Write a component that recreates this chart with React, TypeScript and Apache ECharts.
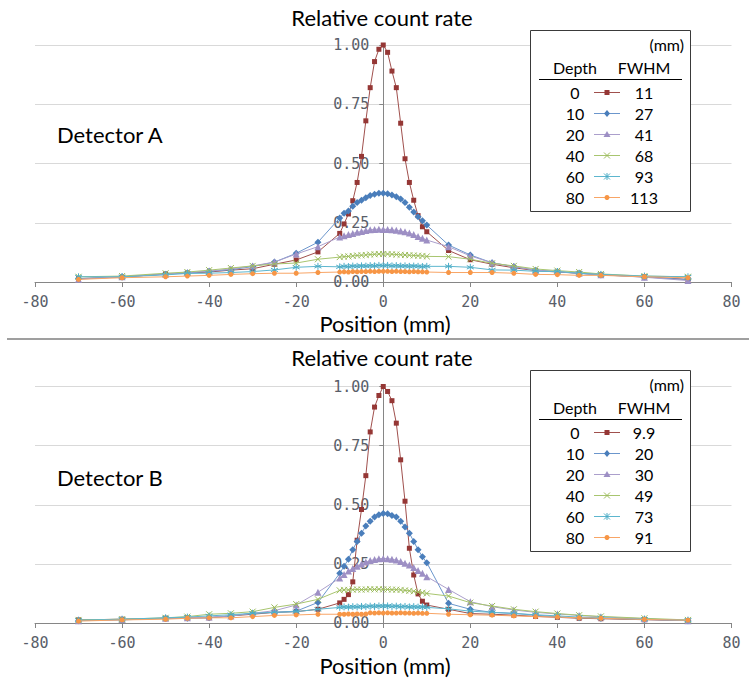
import React, { useEffect, useRef } from "react";
import * as echarts from "echarts";

// Positions (mm) at which the count rate was measured
const positions = [
  -70, -60, -50, -45, -40, -35, -30, -25, -20, -15,
  -10, -9, -8, -7, -6, -5, -4, -3, -2, -1, 0, 1, 2, 3, 4, 5, 6, 7, 8, 9, 10,
  15, 20, 25, 30, 35, 40, 45, 50, 60, 70,
];

const depths = ["0", "10", "20", "40", "60", "80"];
const fwhmA = ["11", "27", "41", "68", "93", "113"];
const fwhmB = ["9.9", "20", "30", "49", "73", "91"];

const xTicks = [-80, -60, -40, -20, 0, 20, 40, 60, 80];
const yTicks = [0, 0.25, 0.5, 0.75, 1.0];

// Detector A
const aDepth0 = [
  0.014, 0.021, 0.034, 0.038, 0.042, 0.05, 0.056, 0.075, 0.093, 0.127,
  0.205, 0.245, 0.287, 0.343, 0.42, 0.53, 0.68, 0.82, 0.93, 0.982, 1.0, 0.969, 0.89, 0.82, 0.67, 0.52, 0.42, 0.345, 0.28, 0.233, 0.212,
  0.133, 0.094, 0.075, 0.06, 0.048, 0.042, 0.037, 0.031, 0.022, 0.011,
];
const aDepth10 = [
  0.014, 0.022, 0.033, 0.038, 0.045, 0.052, 0.065, 0.084, 0.121, 0.168,
  0.27, 0.29, 0.3, 0.32, 0.335, 0.345, 0.355, 0.365, 0.37, 0.375, 0.375, 0.372, 0.367, 0.36, 0.35, 0.335, 0.315, 0.295, 0.275, 0.258, 0.24,
  0.156, 0.114, 0.081, 0.065, 0.05, 0.044, 0.036, 0.03, 0.021, 0.01,
];
const aDepth20 = [
  0.012, 0.022, 0.033, 0.04, 0.046, 0.055, 0.068, 0.084, 0.118, 0.149,
  0.19, 0.195, 0.2, 0.205, 0.21, 0.213, 0.217, 0.22, 0.222, 0.223, 0.222, 0.222, 0.22, 0.218, 0.215, 0.212, 0.207, 0.2, 0.192, 0.185, 0.177,
  0.149, 0.11, 0.081, 0.065, 0.05, 0.044, 0.037, 0.031, 0.02, 0.006,
];
const aDepth40 = [
  0.022, 0.025, 0.037, 0.042, 0.05, 0.059, 0.068, 0.076, 0.08, 0.096,
  0.105, 0.107, 0.108, 0.11, 0.112, 0.113, 0.114, 0.116, 0.117, 0.118, 0.118, 0.118, 0.117, 0.116, 0.115, 0.114, 0.113, 0.112, 0.111, 0.11, 0.108,
  0.107, 0.096, 0.079, 0.068, 0.055, 0.048, 0.042, 0.034, 0.025, 0.022,
];
const aDepth60 = [
  0.022, 0.022, 0.03, 0.036, 0.037, 0.04, 0.044, 0.051, 0.062, 0.066,
  0.064, 0.066, 0.065, 0.067, 0.066, 0.068, 0.067, 0.069, 0.068, 0.07, 0.069, 0.07, 0.068, 0.069, 0.067, 0.068, 0.066, 0.067, 0.066, 0.065, 0.066,
  0.066, 0.062, 0.051, 0.05, 0.045, 0.044, 0.037, 0.032, 0.025, 0.022,
];
const aDepth80 = [
  0.011, 0.018, 0.022, 0.025, 0.028, 0.032, 0.035, 0.037, 0.037, 0.04,
  0.042, 0.043, 0.042, 0.044, 0.043, 0.044, 0.044, 0.045, 0.044, 0.045, 0.045, 0.045, 0.044, 0.045, 0.044, 0.044, 0.043, 0.044, 0.043, 0.043, 0.042,
  0.04, 0.04, 0.04, 0.037, 0.032, 0.031, 0.028, 0.028, 0.022, 0.018,
];

// Detector B
const bDepth0 = [
  0.013, 0.016, 0.02, 0.022, 0.022, 0.03, 0.037, 0.045, 0.048, 0.058,
  0.085, 0.1, 0.12, 0.174, 0.35, 0.48, 0.623, 0.808, 0.913, 0.962, 1.0, 0.979, 0.94, 0.845, 0.69, 0.515, 0.316, 0.203, 0.123, 0.092, 0.076,
  0.058, 0.04, 0.037, 0.033, 0.028, 0.024, 0.02, 0.018, 0.014, 0.01,
];
const bDepth10 = [
  0.01, 0.013, 0.02, 0.02, 0.022, 0.03, 0.041, 0.045, 0.05, 0.087,
  0.21, 0.24, 0.27, 0.31, 0.345, 0.38, 0.41, 0.43, 0.448, 0.458, 0.463, 0.462, 0.455, 0.448, 0.43, 0.406, 0.38, 0.345, 0.31, 0.28, 0.255,
  0.083, 0.058, 0.045, 0.041, 0.033, 0.026, 0.022, 0.02, 0.015, 0.01,
];
const bDepth20 = [
  0.01, 0.015, 0.02, 0.022, 0.025, 0.03, 0.041, 0.052, 0.076, 0.13,
  0.19, 0.205, 0.22, 0.23, 0.24, 0.25, 0.258, 0.264, 0.268, 0.272, 0.273, 0.272, 0.27, 0.266, 0.26, 0.253, 0.245, 0.235, 0.222, 0.21, 0.196,
  0.142, 0.09, 0.069, 0.055, 0.045, 0.038, 0.032, 0.026, 0.018, 0.01,
];
const bDepth40 = [
  0.013, 0.016, 0.022, 0.027, 0.037, 0.041, 0.048, 0.066, 0.08, 0.1,
  0.138, 0.14, 0.14, 0.141, 0.142, 0.141, 0.142, 0.143, 0.142, 0.143, 0.142, 0.142, 0.141, 0.141, 0.14, 0.138, 0.136, 0.134, 0.131, 0.128, 0.125,
  0.114, 0.086, 0.072, 0.058, 0.048, 0.04, 0.033, 0.028, 0.02, 0.013,
];
const bDepth60 = [
  0.012, 0.016, 0.022, 0.025, 0.03, 0.035, 0.041, 0.045, 0.048, 0.058,
  0.066, 0.068, 0.067, 0.069, 0.068, 0.07, 0.069, 0.071, 0.07, 0.072, 0.071, 0.072, 0.07, 0.071, 0.069, 0.07, 0.068, 0.069, 0.067, 0.068, 0.066,
  0.06, 0.05, 0.045, 0.04, 0.035, 0.03, 0.025, 0.022, 0.016, 0.012,
];
const bDepth80 = [
  0.008, 0.013, 0.016, 0.02, 0.022, 0.022, 0.027, 0.032, 0.034, 0.037,
  0.037, 0.037, 0.038, 0.037, 0.038, 0.037, 0.038, 0.043, 0.042, 0.043, 0.042, 0.043, 0.042, 0.042, 0.043, 0.042, 0.042, 0.041, 0.042, 0.041, 0.041,
  0.037, 0.035, 0.033, 0.03, 0.027, 0.025, 0.022, 0.02, 0.015, 0.012,
];

const detectorA = [aDepth0, aDepth10, aDepth20, aDepth40, aDepth60, aDepth80];
const detectorB = [bDepth0, bDepth10, bDepth20, bDepth40, bDepth60, bDepth80];

const STYLES = [
  { color: "#953735", line: "#a0504d", symbol: "rect", size: 5, stroke: false },
  { color: "#4a7ebb", line: "#6b96cc", symbol: "diamond", size: 7, stroke: false },
  { color: "#9d8fc4", line: "#ab9fcc", symbol: "triangle", size: 7, stroke: false },
  { color: "#9bbb59", line: "#a8c56f", symbol: "path://M0,0L10,10M10,0L0,10", size: 6, stroke: true },
  { color: "#4bacc6", line: "#5db6ce", symbol: "path://M5,0L5,10M0.7,2.5L9.3,7.5M0.7,7.5L9.3,2.5", size: 7, stroke: true },
  { color: "#f79646", line: "#f8a566", symbol: "circle", size: 5, stroke: false },
];

const TEXT_FONT = "Lato";
const AXIS_FONT = "DejaVu Sans Mono";
const GRID_LEFT = 35;
const GRID_WIDTH = 696.5;

function legendBox(top: number, fwhm: string[]) {
  const els: any[] = [];
  const z = 100;
  els.push({
    type: "rect",
    shape: { x: 530.5, y: top + 0.5, width: 160, height: 181 },
    style: { fill: "#ffffff", stroke: "#3a3a3a", lineWidth: 1 },
    z,
  });
  const txt = (text: string, x: number, y: number, align: string) => ({
    type: "text",
    x,
    y,
    style: {
      text,
      fontFamily: TEXT_FONT,
      fontSize: 16,
      fill: "#000000",
      textAlign: align,
      textVerticalAlign: "middle",
    },
    z: z + 1,
  });
  els.push(txt("(mm)", 684, top + 14, "right"));
  els.push(txt("Depth", 575, top + 37, "center"));
  els.push(txt("FWHM", 644, top + 37, "center"));
  els.push({
    type: "line",
    shape: { x1: 539, y1: top + 49.5, x2: 682, y2: top + 49.5 },
    style: { stroke: "#000000", lineWidth: 1 },
    z: z + 1,
  });
  depths.forEach((d, i) => {
    const y = top + 62.5 + i * 21;
    const s = STYLES[i];
    els.push(txt(d, 575, y, "center"));
    els.push(txt(fwhm[i], 644, y, "center"));
    els.push({
      type: "line",
      shape: { x1: 594, y1: y, x2: 620, y2: y },
      style: { stroke: s.line, lineWidth: 1 },
      z: z + 1,
    });
    const cx = 607;
    if (i === 0) {
      els.push({ type: "rect", shape: { x: cx - 2.5, y: y - 2.5, width: 5, height: 5 }, style: { fill: s.color }, z: z + 2 });
    } else if (i === 1) {
      els.push({ type: "polygon", shape: { points: [[cx, y - 3.5], [cx + 3, y], [cx, y + 3.5], [cx - 3, y]] }, style: { fill: s.color }, z: z + 2 });
    } else if (i === 2) {
      els.push({ type: "polygon", shape: { points: [[cx, y - 3.5], [cx + 3.5, y + 2.5], [cx - 3.5, y + 2.5]] }, style: { fill: s.color }, z: z + 2 });
    } else if (i === 3 || i === 4) {
      els.push({ type: "line", shape: { x1: cx - 3, y1: y - 3, x2: cx + 3, y2: y + 3 }, style: { stroke: s.color, lineWidth: 1 }, z: z + 2 });
      els.push({ type: "line", shape: { x1: cx + 3, y1: y - 3, x2: cx - 3, y2: y + 3 }, style: { stroke: s.color, lineWidth: 1 }, z: z + 2 });
      if (i === 4) {
        els.push({ type: "line", shape: { x1: cx, y1: y - 3.5, x2: cx, y2: y + 3.5 }, style: { stroke: s.color, lineWidth: 1 }, z: z + 2 });
      }
    } else {
      els.push({ type: "circle", shape: { cx, cy: y, r: 2.5 }, style: { fill: s.color }, z: z + 2 });
    }
  });
  return els;
}

function bigText(text: string, x: number, y: number, align = "center") {
  return {
    type: "text",
    x,
    y,
    style: {
      text,
      fontFamily: TEXT_FONT,
      fontSize: 22,
      fill: "#000000",
      textAlign: align,
      textVerticalAlign: "middle",
    },
    z: 50,
  };
}

function makeAxes(gridIndex: number) {
  const xMin = xTicks[0];
  const xMax = xTicks[xTicks.length - 1];
  const xAxis = {
    type: "value",
    gridIndex,
    min: xMin,
    max: xMax,
    interval: 20,
    axisLine: { show: true, onZero: false, lineStyle: { color: "#868686", width: 1 } },
    axisTick: { show: true, length: 5, lineStyle: { color: "#868686" } },
    axisLabel: {
      margin: 12,
      color: "#595e69",
      fontFamily: AXIS_FONT,
      fontSize: 15,
      formatter: (v: number) => String(v),
    },
    splitLine: { show: false },
  };
  // y axis sits at position 0 of the x axis
  const zeroOffset = -GRID_WIDTH * ((0 - xMin) / (xMax - xMin));
  const yAxis = {
    type: "value",
    gridIndex,
    position: "left",
    offset: zeroOffset,
    min: yTicks[0],
    max: yTicks[yTicks.length - 1],
    interval: 0.25,
    axisLine: { show: true, onZero: false, lineStyle: { color: "#868686", width: 1 } },
    axisTick: { show: true, length: 4, lineStyle: { color: "#868686" } },
    axisLabel: {
      margin: 14,
      color: "#595e69",
      fontFamily: AXIS_FONT,
      fontSize: 15,
      formatter: (v: number) => v.toFixed(2),
    },
    splitLine: { show: true, lineStyle: { color: "#d9d9d9", width: 1 } },
  };
  return { xAxis, yAxis };
}

function makeSeries(sets: number[][], gridIndex: number) {
  return sets.map((vals, i) => {
    const s = STYLES[i];
    return {
      type: "line",
      name: `d${depths[i]}-${gridIndex}`,
      xAxisIndex: gridIndex,
      yAxisIndex: gridIndex,
      data: positions.map((p, k) => [p, vals[k]]),
      symbol: s.symbol,
      symbolSize: s.size,
      showSymbol: true,
      showAllSymbol: true,
      lineStyle: { color: s.line, width: 1 },
      itemStyle: {
        color: s.color,
        borderColor: s.color,
        borderWidth: s.stroke ? 1 : 0,
      },
      emphasis: { disabled: true },
      z: 3 + i,
    };
  });
}

export default function App() {
  const ref = useRef<HTMLDivElement>(null);
  useEffect(() => {
    if (!ref.current) return;
    const chart = echarts.init(ref.current, undefined, { renderer: "svg" });
    const a = makeAxes(0);
    const b = makeAxes(1);
    const option: any = {
      animation: false,
      backgroundColor: "#ffffff",
      grid: [
        { left: GRID_LEFT, top: 45, width: GRID_WIDTH, height: 237, containLabel: false, outerBoundsMode: "none" },
        { left: GRID_LEFT, top: 386.5, width: GRID_WIDTH, height: 236.5, containLabel: false, outerBoundsMode: "none" },
      ],
      xAxis: [a.xAxis, b.xAxis],
      yAxis: [a.yAxis, b.yAxis],
      series: [...makeSeries(detectorA, 0), ...makeSeries(detectorB, 1)],
      graphic: [
        bigText("Relative count rate", 382, 17),
        bigText("Detector A", 57, 134, "left"),
        bigText("Position (mm)", 385, 323),
        {
          type: "line",
          shape: { x1: 7, y1: 339, x2: 749, y2: 339 },
          style: { stroke: "#7f7f7f", lineWidth: 1.5 },
          z: 50,
        },
        bigText("Relative count rate", 382, 357),
        bigText("Detector B", 57, 477, "left"),
        bigText("Position (mm)", 385, 665),
        ...legendBox(30, fwhmA),
        ...legendBox(370, fwhmB),
      ],
    };
    chart.setOption(option);
    return () => chart.dispose();
  }, []);
  return (
    <div
      ref={ref}
      style={{ position: "absolute", left: 0, top: 0, width: 749, height: 680 }}
    />
  );
}
